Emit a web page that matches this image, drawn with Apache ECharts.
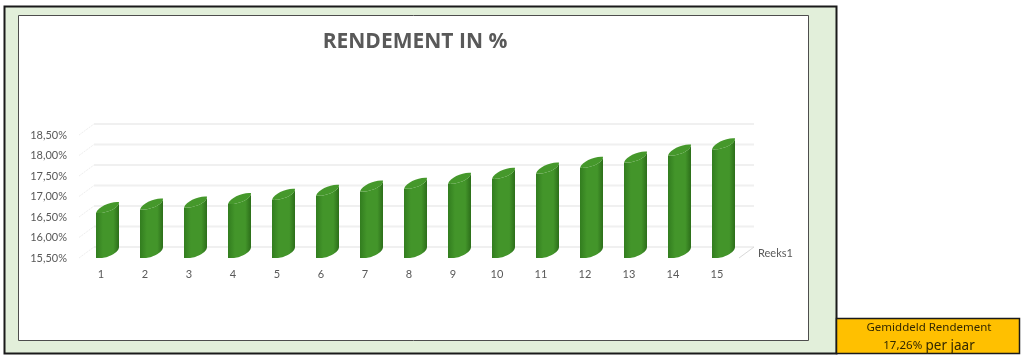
<!DOCTYPE html>
<html>
<head>
<meta charset="utf-8">
<title>Rendement in %</title>
<script src="https://cdn.jsdelivr.net/npm/echarts@6/dist/echarts.min.js"></script>
<style>
html, body { margin: 0; padding: 0; background: #fff; }
#chart { width: 1024px; height: 360px; }
</style>
</head>
<body>
<div id="chart"></div>
<script>
var categories = ['1', '2', '3', '4', '5', '6', '7', '8', '9', '10', '11', '12', '13', '14', '15'];
var rendement = [16.60, 16.68, 16.73, 16.82, 16.92, 17.02, 17.12, 17.19, 17.31, 17.43, 17.56, 17.70, 17.83, 18.00, 18.15];
var yTicks = [15.5, 16, 16.5, 17, 17.5, 18, 18.5];
var seriesName = 'Reeks1';
var chartTitle = 'RENDEMENT IN %';
var boxLabel = 'Gemiddeld Rendement';
var boxValue = '17,26%';
var boxUnit = 'per jaar';

var chart = echarts.init(document.getElementById('chart'));

// 3D look: the back wall sits this far up and to the right of the axis
var depthX = 15;
var depthY = 11;

function renderWall(params, api) {
	var p = api.coord([0, api.value(0)]);
	var left = params.coordSys.x;
	var right = left + params.coordSys.width;
	var y = p[1];
	var children = [{
		type: 'line',
		shape: { x1: left + depthX, y1: y - depthY, x2: right + depthX, y2: y - depthY },
		style: { stroke: '#f0f0f0', lineWidth: 2 }
	}, {
		type: 'line',
		shape: { x1: left, y1: y, x2: left + depthX, y2: y - depthY },
		style: { stroke: '#eeeeee', lineWidth: 1, lineDash: [2, 1] }
	}];
	if (params.dataIndex === 0) {
		children.push({
			type: 'line',
			shape: { x1: right, y1: y, x2: right + depthX, y2: y - depthY },
			style: { stroke: '#d9d9d9', lineWidth: 1 }
		});
	}
	return { type: 'group', children: children };
}

function renderBar(params, api) {
	var top = api.coord([api.value(0), api.value(1)]);
	var base = api.coord([api.value(0), 15.5]);
	var x0 = top[0] - 5;
	var x1 = x0 + 23;
	var yt = top[1];
	var yb = base[1];
	var body = 'M' + x0 + ' ' + yb + 'L' + x0 + ' ' + yt +
		'C' + (x0 + 8) + ' ' + (yt + 1) + ' ' + x1 + ' ' + (yt - 4) + ' ' + x1 + ' ' + (yt - depthY) +
		'L' + x1 + ' ' + (yb - depthY) +
		'C' + x1 + ' ' + (yb - 5) + ' ' + (x0 + 11) + ' ' + yb + ' ' + (x0 + 5) + ' ' + yb + 'Z';
	var lid = 'M' + x0 + ' ' + yt +
		'C' + (x0 + 2) + ' ' + (yt - 6) + ' ' + (x0 + 13) + ' ' + (yt - depthY) + ' ' + (x1 - 2) + ' ' + (yt - depthY) +
		'L' + x1 + ' ' + (yt - depthY) +
		'C' + x1 + ' ' + (yt - 4) + ' ' + (x0 + 8) + ' ' + (yt + 1) + ' ' + x0 + ' ' + yt + 'Z';
	return {
		type: 'group',
		children: [{
			type: 'path',
			shape: { pathData: body },
			style: {
				fill: new echarts.graphic.LinearGradient(0, 0, 1, 0, [
					{ offset: 0, color: '#327d1f' },
					{ offset: 0.3, color: '#43952a' },
					{ offset: 0.75, color: '#43952a' },
					{ offset: 1, color: '#2c6e1a' }
				])
			}
		}, {
			type: 'path',
			shape: { pathData: lid },
			style: { fill: '#45982b' }
		}]
	};
}

var option = {
	animation: false,
	textStyle: { fontFamily: 'Lato' },
	title: {
		text: chartTitle,
		left: 410,
		top: 27,
		textAlign: 'center',
		textStyle: { fontFamily: 'Open Sans', fontSize: 21, fontWeight: 'bold', color: '#595959' }
	},
	grid: { left: 79, right: 285, top: 135, bottom: 102 },
	xAxis: {
		type: 'category',
		data: categories,
		axisLine: { show: false },
		axisTick: { show: false },
		axisLabel: { color: '#595959', fontSize: 11, margin: 11, interval: 0 }
	},
	yAxis: {
		type: 'value',
		min: 15.5,
		max: 18.5,
		interval: 0.5,
		axisLine: { show: false },
		axisTick: { show: false },
		splitLine: { show: false },
		axisLabel: {
			color: '#595959',
			fontSize: 11,
			margin: 12,
			padding: [2, 0, 0, 0],
			formatter: function (v) { return v.toFixed(2).replace('.', ',') + '%'; }
		}
	},
	series: [{
		type: 'custom',
		name: 'wall',
		silent: true,
		z: 1,
		renderItem: renderWall,
		data: yTicks.map(function (t) { return [t]; }),
		encode: { y: 0 }
	}, {
		type: 'custom',
		name: seriesName,
		z: 3,
		renderItem: renderBar,
		data: rendement.map(function (v, i) { return [i, v]; }),
		encode: { x: 0, y: 1 }
	}],
	graphic: [
		{ type: 'rect', z: -10, shape: { x: 4.5, y: 6.5, width: 832, height: 347 }, style: { fill: '#e2efda', stroke: '#1a1a1a', lineWidth: 2 } },
		{ type: 'rect', z: -9, shape: { x: 18.5, y: 15.5, width: 790, height: 325 }, style: { fill: '#ffffff', stroke: '#4d4d4d', lineWidth: 1 } },
		{ type: 'rect', z: -8, shape: { x: 836.5, y: 318.5, width: 183, height: 35 }, style: { fill: '#ffc000', stroke: '#1a1a1a', lineWidth: 1.5 } },
		{ type: 'text', z: 5, x: 758, y: 253, style: { text: seriesName, fill: '#595959', font: '11px Lato', verticalAlign: 'middle' } },
		{ type: 'text', z: 5, x: 929, y: 328, style: { text: boxLabel, fill: '#332800', font: '11.5px "Noto Sans"', align: 'center', verticalAlign: 'middle' } },
		{ type: 'text', z: 5, x: 929, y: 346, style: {
			text: '{a|' + boxValue + '} {b|' + boxUnit + '}',
			align: 'center',
			verticalAlign: 'middle',
			rich: {
				a: { fill: '#332800', font: '11.5px "Noto Sans"' },
				b: { fill: '#332800', font: '13.5px "Noto Sans"' }
			}
		} }
	]
};

chart.setOption(option);
</script>
</body>
</html>
